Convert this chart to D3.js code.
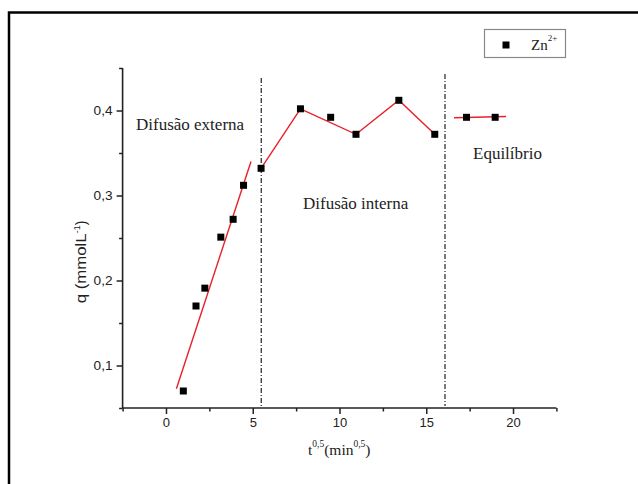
<!DOCTYPE html>
<html>
<head>
<meta charset="utf-8">
<script src="https://cdn.jsdelivr.net/npm/d3@7"></script>
<style>
  html, body { margin: 0; padding: 0; background: #fff; }
  svg { display: block; }
  .serif { font-family: "Liberation Serif", "Times New Roman", Times, "DejaVu Serif", serif; }
  .sans { font-family: "Liberation Sans", Arial, Helvetica, sans-serif; }
</style>
</head>
<body>
<svg id="chart" width="638" height="484"></svg>
<script>
// ---- data ----
const xValues = [1.00, 1.73, 2.24, 3.16, 3.87, 4.47, 5.48, 7.75, 9.49, 10.95, 13.42, 15.49, 17.32, 18.97];
const qValues = [0.070, 0.170, 0.191, 0.251, 0.272, 0.312, 0.332, 0.402, 0.392, 0.372, 0.412, 0.372, 0.392, 0.392];
// external diffusion linear fit (endpoints)
const fitExtX = [0.6, 4.9];
const fitExtY = [0.0726, 0.340];
// internal diffusion connecting line
const fitIntX = [5.48, 7.75, 10.95, 13.42, 15.49];
const fitIntY = [0.332, 0.402, 0.372, 0.412, 0.372];
// equilibrium line
const fitEqX = [16.6, 19.6];
const fitEqY = [0.3915, 0.393];
// stage boundaries
const boundaries = [5.49, 16.08];
const stageLabels = ["Difusão externa", "Difusão interna", "Equilíbrio"];
const xTicks = [0, 5, 10, 15, 20];
const xMinor = [-2.5, 2.5, 7.5, 12.5, 17.5, 22.5];
const yTicks = [0.1, 0.2, 0.3, 0.4];
const yMinor = [0.05, 0.15, 0.25, 0.35, 0.45];
const seriesName = "Zn";
const seriesSup = "2+";

// ---- drawing ----
const svg = d3.select("#chart");
const x = d3.scaleLinear().domain([-2.5, 22.5]).range([122.6, 556.4]);
const y = d3.scaleLinear().domain([0.05, 0.45]).range([408, 68]);

// outer frame (cropped)
svg.append("path")
  .attr("d", "M9,484 V12.5 H638")
  .attr("fill", "none").attr("stroke", "#000").attr("stroke-width", 2.5);

// axes
const fmt = d => d3.format(".1f")(d).replace(".", ",");
const xAxis = svg.append("g").attr("transform", `translate(0,${y(0.05)})`)
  .call(d3.axisBottom(x).tickValues(xTicks).tickSize(6).tickPadding(4).tickFormat(d3.format("d")));
svg.append("g").attr("transform", `translate(0,${y(0.05)})`)
  .call(d3.axisBottom(x).tickValues(xMinor).tickSize(3.5).tickFormat(""))
  .select(".domain").remove();
const yAxis = svg.append("g").attr("transform", `translate(${x(-2.5)},0)`)
  .call(d3.axisLeft(y).tickValues(yTicks).tickSize(6).tickPadding(4).tickFormat(fmt));
svg.append("g").attr("transform", `translate(${x(-2.5)},0)`)
  .call(d3.axisLeft(y).tickValues(yMinor).tickSize(3.5).tickFormat(""))
  .select(".domain").remove();
svg.selectAll("g").attr("font-family", null).attr("font-size", null);
svg.selectAll(".domain").attr("stroke", "#222").attr("stroke-width", 1.6);
svg.selectAll(".tick line").attr("stroke", "#222").attr("stroke-width", 1.5);
svg.selectAll(".tick text").attr("class", "sans").attr("font-size", 13).attr("fill", "#222");
yAxis.selectAll(".tick text").attr("textLength", 19).attr("lengthAdjust", "spacingAndGlyphs");
xAxis.select(".domain").attr("d", `M${x(-2.5)},0H${x(22.5)}`);
yAxis.select(".domain").attr("d", `M0,${y(0.05)}V${y(0.45)}`);

// boundary lines
svg.selectAll(".bound").data(boundaries).enter().append("line")
  .attr("x1", d => x(d)).attr("x2", d => x(d))
  .attr("y1", (d, i) => i === 0 ? 78 : 74).attr("y2", 406)
  .attr("stroke", "#222").attr("stroke-width", 1.2)
  .attr("stroke-dasharray", "5,2,1,2");

// red lines
const line = d3.line().x(d => x(d[0])).y(d => y(d[1]));
[[fitExtX, fitExtY], [fitIntX, fitIntY], [fitEqX, fitEqY]].forEach(([xs, ys]) => {
  svg.append("path").datum(xs.map((v, i) => [v, ys[i]]))
    .attr("d", line).attr("fill", "none").attr("stroke", "#e8202a").attr("stroke-width", 1.4);
});

// points
const sz = 7;
svg.selectAll(".pt").data(xValues.map((v, i) => [v, qValues[i]])).enter().append("rect")
  .attr("x", d => x(d[0]) - sz / 2).attr("y", d => y(d[1]) - sz / 2)
  .attr("width", sz).attr("height", sz).attr("fill", "#000");

// stage labels
const labelPos = [[136, 130], [303, 209], [473, 159]];
stageLabels.forEach((t, i) => {
  svg.append("text").attr("class", "serif").attr("x", labelPos[i][0]).attr("y", labelPos[i][1])
    .attr("font-size", 17).attr("fill", "#222").text(t);
});

// legend
svg.append("rect").attr("x", 484.5).attr("y", 29.5).attr("width", 81).attr("height", 28)
  .attr("fill", "#fff").attr("stroke", "#888").attr("stroke-width", 1.2);
svg.append("rect").attr("x", 506 - 3.5).attr("y", 45 - 3.5).attr("width", 7).attr("height", 7).attr("fill", "#000");
const lt = svg.append("text").attr("class", "serif").attr("x", 531).attr("y", 50)
  .attr("font-size", 15).attr("fill", "#222");
lt.append("tspan").text(seriesName);
lt.append("tspan").attr("font-size", 9).attr("dy", -9).text(seriesSup);

// x title
const xt = svg.append("text").attr("class", "serif").attr("x", 308).attr("y", 455)
  .attr("font-size", 15.5).attr("fill", "#222");
xt.append("tspan").text("t");
xt.append("tspan").attr("font-size", 9.5).attr("dy", -8).text("0,5");
xt.append("tspan").attr("dy", 8).text("(min");
xt.append("tspan").attr("font-size", 9.5).attr("dy", -8).text("0,5");
xt.append("tspan").attr("dy", 8).text(")");

// y title
const yt = svg.append("text").attr("class", "sans").attr("transform", "translate(86,262) rotate(-90)")
  .attr("text-anchor", "middle").attr("font-size", 14).attr("fill", "#222");
yt.append("tspan").text("q (mmolL").attr("textLength", 70).attr("lengthAdjust", "spacingAndGlyphs");
yt.append("tspan").attr("font-size", 9).attr("dy", -6).text("-1");
yt.append("tspan").attr("dy", 6).text(")");
</script>
</body>
</html>
